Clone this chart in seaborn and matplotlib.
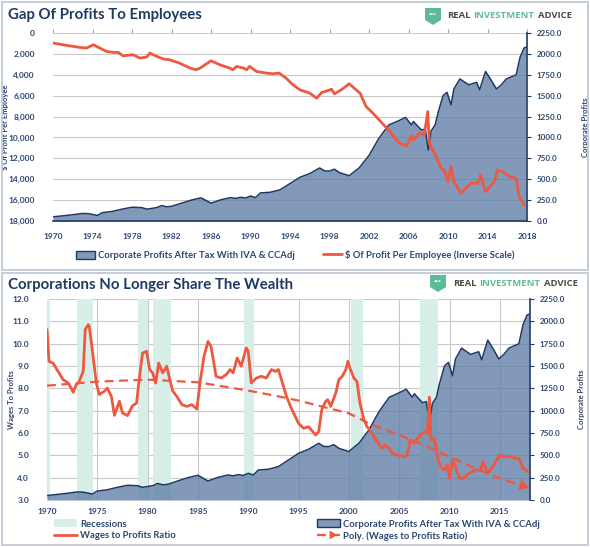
import matplotlib
matplotlib.use("Agg")
import matplotlib.pyplot as plt
import seaborn as sns
import numpy as np
from matplotlib.patches import Rectangle, Patch, Polygon, FancyArrowPatch
from matplotlib.lines import Line2D
from matplotlib.legend_handler import HandlerLine2D

# ---- data ----
# corporate profits after tax (right axis, both panels)
profit_pts = [(1970.0, 50), (1971.0, 62), (1972.0, 75), (1973.0, 90), (1973.6, 88),
              (1974.5, 67), (1975.0, 100), (1976.0, 115), (1977.0, 142), (1978.0, 165),
              (1979.0, 160), (1979.5, 142), (1980.5, 160), (1981.0, 185), (1981.5, 170),
              (1982.0, 176), (1983.0, 213), (1984.0, 250), (1985.0, 277), (1986.0, 213),
              (1987.0, 254), (1988.0, 280), (1988.5, 270), (1989.0, 284), (1989.5, 275),
              (1990.0, 299), (1990.5, 280), (1991.0, 336), (1992.0, 344), (1993.0, 374),
              (1994.0, 448), (1995.0, 523), (1996.0, 568), (1997.0, 635), (1997.5, 600),
              (1998.0, 598), (1998.5, 620), (1999.0, 579), (2000.0, 542), (2000.5, 590),
              (2001.0, 635), (2002.0, 785), (2003.0, 990), (2004.0, 1149), (2005.0, 1200),
              (2005.7, 1240), (2006.3, 1150), (2006.5, 1190), (2007.3, 1090), (2007.7, 1100),
              (2008.0, 850), (2008.3, 1080), (2008.7, 1150), (2009.0, 1300), (2009.5, 1500),
              (2009.9, 1540), (2010.3, 1390), (2010.6, 1580), (2011.2, 1700), (2012.1, 1630),
              (2012.9, 1660), (2013.2, 1570), (2013.8, 1790), (2014.4, 1680), (2014.9, 1580),
              (2015.4, 1630), (2015.9, 1700), (2016.9, 1750), (2017.3, 1960), (2017.7, 2070),
              (2017.9, 2080)]

# $ of profit per employee (left axis, inverse scale)
emp_pts = [(1970.0, 960), (1971.35, 1180), (1972.7, 1380), (1973.4, 1440), (1974.1, 1120),
           (1974.4, 1280), (1975.4, 1760), (1976.1, 1860), (1976.6, 1860), (1977.1, 2180),
           (1978.1, 2080), (1978.8, 2400), (1979.5, 2300), (1979.8, 1920), (1980.5, 2240),
           (1981.2, 2500), (1981.8, 2560), (1982.8, 2880), (1983.9, 3360), (1984.5, 3520),
           (1984.9, 3360), (1986.0, 2660), (1986.9, 3040), (1987.9, 3360), (1988.2, 3520),
           (1988.6, 3200), (1989.3, 3360), (1989.6, 3520), (1989.9, 3200), (1990.6, 3680),
           (1991.6, 3840), (1992.3, 3900), (1992.9, 3840), (1993.6, 4320), (1994.3, 4960),
           (1995.0, 5440), (1996.0, 5760), (1996.7, 6240), (1997.2, 5700), (1997.9, 5500),
           (1998.2, 5380), (1998.5, 5820), (1999.2, 5440), (2000.0, 4860), (2000.5, 5280),
           (2001.1, 5760), (2001.7, 7040), (2002.4, 7680), (2003.1, 8400), (2003.8, 9110),
           (2004.1, 9440), (2004.5, 9920), (2005.1, 10550), (2005.8, 10810), (2006.3, 9850),
           (2006.5, 10240), (2007.1, 9590), (2007.6, 9740), (2007.95, 7520), (2008.1, 10550),
           (2008.8, 11830), (2009.3, 12950), (2009.6, 13110), (2010.0, 14230), (2010.3, 12790),
           (2010.6, 14230), (2011.3, 15340), (2012.3, 14390), (2013.0, 14390), (2013.3, 13590),
           (2013.8, 15190), (2014.7, 14230), (2015.0, 13110), (2015.5, 13270), (2016.2, 13750),
           (2016.9, 13910), (2017.2, 15670), (2017.7, 16470)]

# wages to profits ratio (bottom panel, left axis)
wage_pts = [(1970.0, 10.63), (1970.2, 9.21), (1970.6, 9.13), (1971.1, 8.76), (1971.6, 8.39),
            (1972.1, 8.24), (1972.4, 8.01), (1972.6, 7.82), (1972.9, 8.16), (1973.2, 8.31),
            (1973.6, 8.76), (1973.8, 10.63), (1974.1, 10.85), (1974.2, 10.78), (1974.6, 9.36),
            (1974.9, 8.24), (1975.2, 7.72), (1975.7, 7.87), (1976.0, 8.01), (1976.4, 7.64),
            (1976.7, 6.79), (1977.2, 7.42), (1977.5, 6.90), (1978.0, 6.78), (1978.5, 7.22),
            (1978.9, 7.34), (1979.2, 8.54), (1979.5, 9.58), (1979.9, 9.66), (1980.2, 8.84),
            (1980.5, 8.69), (1980.8, 8.24), (1981.1, 9.13), (1981.5, 8.69), (1981.9, 8.99),
            (1982.2, 8.39), (1982.5, 7.87), (1982.9, 7.64), (1983.4, 7.27), (1983.9, 7.19),
            (1984.4, 7.27), (1984.9, 7.07), (1985.2, 8.24), (1985.6, 9.43), (1986.0, 10.10),
            (1986.3, 9.88), (1986.8, 8.54), (1987.3, 8.46), (1987.8, 8.61), (1988.2, 8.84),
            (1988.5, 8.69), (1988.9, 9.36), (1989.3, 8.99), (1989.8, 9.81), (1990.0, 9.66),
            (1990.3, 8.24), (1990.8, 8.46), (1991.3, 8.54), (1991.8, 8.46), (1992.3, 8.84),
            (1992.7, 8.76), (1993.0, 8.84), (1993.4, 8.24), (1993.8, 7.64), (1994.2, 7.19),
            (1994.5, 6.90), (1995.0, 6.43), (1995.5, 6.21), (1996.0, 6.28), (1996.7, 5.91),
            (1997.0, 6.06), (1997.3, 7.03), (1997.7, 7.42), (1997.9, 7.49), (1998.2, 7.19),
            (1998.7, 7.79), (1999.0, 8.39), (1999.3, 8.51), (1999.7, 8.84), (1999.9, 9.21),
            (2000.1, 8.91), (2000.5, 8.46), (2000.8, 8.31), (2001.1, 7.34), (2001.5, 6.58),
            (2001.8, 6.28), (2002.1, 6.13), (2002.8, 5.61), (2003.3, 5.31), (2003.6, 5.46),
            (2004.0, 5.31), (2004.3, 5.09), (2004.8, 5.01), (2005.5, 4.94), (2005.8, 5.01),
            (2006.1, 5.69), (2006.5, 5.54), (2006.8, 5.76), (2007.3, 5.99), (2007.6, 6.06),
            (2007.8, 5.99), (2008.0, 7.60), (2008.15, 5.69), (2008.4, 5.76), (2008.6, 5.54),
            (2008.8, 4.94), (2009.1, 4.49), (2009.5, 4.34), (2009.8, 4.57), (2010.0, 3.97),
            (2010.3, 4.79), (2010.6, 4.49), (2011.0, 3.97), (2011.4, 3.97), (2011.9, 4.19),
            (2012.6, 4.34), (2013.1, 4.34), (2013.3, 4.72), (2013.8, 4.19), (2014.3, 4.49),
            (2014.6, 4.72), (2015.0, 5.01), (2015.4, 4.94), (2015.9, 4.94), (2016.6, 4.87),
            (2016.9, 4.87), (2017.3, 4.42), (2017.8, 4.27)]

# polynomial trend as drawn
poly_pts = [(1970, 8.12), (1975, 8.30), (1980, 8.39), (1985, 8.27), (1990, 7.90), (1993, 7.64),
            (1995, 7.45), (2000, 6.88), (2002, 6.43), (2005, 5.91), (2007.5, 5.46),
            (2010, 4.94), (2012.5, 4.42), (2015, 3.97), (2017.9, 3.55)]

recessions = [(1970.0, 1970.25), (1973.0, 1974.55), (1979.0, 1980.0), (1980.5, 1982.3),
              (1989.6, 1990.6), (2000.2, 2001.4), (2007.1, 2008.9)]

profit_year, profit_val = map(np.array, zip(*profit_pts))
emp_year, emp_val = map(np.array, zip(*emp_pts))
wage_year, wage_val = map(np.array, zip(*wage_pts))
poly_year, poly_val = map(np.array, zip(*poly_pts))

top_xticks = list(range(1970, 2019, 4))
bot_xticks = list(range(1970, 2016, 5))
emp_ticks = list(range(0, 18001, 2000))
ratio_ticks = [3.0, 4.0, 5.0, 6.0, 7.0, 8.0, 9.0, 10.0, 11.0, 12.0]
profit_ticks = [0, 250, 500, 750, 1000, 1250, 1500, 1750, 2000, 2250]

NAVY = "#1F3A63"
TICK = "#2B4770"
RED = "#EE5841"
AREA = "#5F7DA6"
AREA_SOLID = "#8198B7"
EDGE = "#1F3864"
MINT = "#D8EFE9"
GRID = "#C9C9C9"
GREEN = "#5DBB9B"
GRAY_TXT = "#4A4A4A"

sns.set_theme(style="white")
plt.rcParams["font.family"] = ["Lato", "DejaVu Sans"]

W, H = 590, 547
fig = plt.figure(figsize=(W / 100, H / 100), dpi=100)
renderer = fig.canvas.get_renderer()


def fx(x):
    return x / W


def fy(y):
    return 1 - y / H


def px_rect(x0, y0, x1, y1):
    return [fx(x0), fy(y1), (x1 - x0) / W, (y1 - y0) / H]


def logo(x_icon, y_mid, x_text):
    s = [(x_icon, y_mid - 8), (x_icon + 16, y_mid - 8), (x_icon + 16, y_mid + 4),
         (x_icon + 8, y_mid + 9), (x_icon, y_mid + 4)]
    fig.add_artist(Polygon([(fx(a), fy(b)) for a, b in s], closed=True,
                           transform=fig.transFigure, fc=GREEN, ec="none"))
    fig.text(fx(x_icon + 8), fy(y_mid - 1.5), "···", color="white", fontsize=7,
             weight="bold", ha="center", va="center")
    kw = dict(fontsize=6.8, weight="bold", va="center", family=["Open Sans", "DejaVu Sans"])
    x = x_text
    for word, col in [("REAL", GRAY_TXT), ("INVESTMENT", GREEN), ("ADVICE", GRAY_TXT)]:
        t = fig.text(fx(x), fy(y_mid), word, color=col, **kw)
        x = t.get_window_extent(renderer).x1 + 3


def style_profit_axis(ax):
    for s in ["top", "left", "bottom"]:
        ax.spines[s].set_visible(False)
    ax.spines["right"].set_color(EDGE)
    ax.spines["right"].set_linewidth(1.2)
    ax.yaxis.tick_right()
    ax.yaxis.set_label_position("right")
    ax.set_ylim(0, 2250)
    ax.set_yticks(profit_ticks)
    ax.set_yticklabels([f"{v:.1f}" for v in profit_ticks], fontweight="bold")
    ax.tick_params(axis="y", right=True, left=False, labelright=True, labelleft=False,
                   length=3, width=0.8, color=EDGE, labelsize=5.8, labelcolor=TICK, pad=4)
    ax.set_ylabel("Corporate Profits", fontsize=5.5, weight="bold", color=TICK, rotation=90)
    ax.set_axisbelow(True)


def style_left_axis(ax, ticks, labels, lim, text, xlab):
    ax.yaxis.tick_left()
    ax.yaxis.set_label_position("left")
    ax.set_ylim(*lim)
    ax.set_yticks(ticks)
    ax.set_yticklabels(labels, fontweight="bold")
    ax.tick_params(axis="y", left=False, right=False, labelleft=True, labelright=False,
                   labelsize=6, labelcolor=TICK, pad=7)
    ax.set_ylabel(text, fontsize=5.5, weight="bold", color=TICK)
    ax.yaxis.set_label_coords(xlab, 0.5)
    for s in ax.spines.values():
        s.set_visible(False)


def draw_area(ax):
    ax.fill_between(profit_year, profit_val, color=AREA, alpha=0.78, lw=0, zorder=1)
    ax.plot(profit_year, profit_val, color=EDGE, lw=1.1, zorder=3)


# panel borders
for (x0, y0, x1, y1) in [(2, 2, 588, 270), (2, 273, 588, 545)]:
    fig.add_artist(Rectangle((fx(x0), fy(y1)), (x1 - x0) / W, (y1 - y0) / H,
                             transform=fig.transFigure, fill=False, ec="#C3CEDB", lw=1.4))

# ================= top panel =================
axA = fig.add_axes(px_rect(53, 33, 527, 221))
axE = axA.twinx()
draw_area(axA)
style_profit_axis(axA)
axA.yaxis.set_label_coords(1.115, 0.5)
axA.spines["bottom"].set_visible(True)
axA.spines["bottom"].set_color(EDGE)
axA.spines["bottom"].set_linewidth(1.2)
axA.grid(axis="y", color=GRID, lw=0.8)
axA.set_xlim(1970, 2018)
axA.set_xticks(top_xticks)
axA.set_xticklabels([str(t) for t in top_xticks], fontweight="bold")
axA.tick_params(axis="x", top=True, bottom=False, labeltop=False, labelbottom=True,
                length=3, width=0.8, color="#A0A0A0", direction="out",
                labelsize=6, labelcolor=TICK, pad=6)

sns.lineplot(x=emp_year, y=emp_val, ax=axE, color=RED, lw=2.0, zorder=5)
style_left_axis(axE, emp_ticks, [f"{v:,}" for v in emp_ticks], (18000, 0),
                "\\$ Of Profit Per Employee", -0.092)

fig.text(fx(8), fy(15), "Gap Of Profits To Employees", fontsize=10.8, weight="bold",
         color=NAVY, va="center")
logo(425, 16, 447)

top_handles = [Patch(facecolor=AREA_SOLID, edgecolor=EDGE, lw=1.0),
               Line2D([], [], color=RED, lw=2.0)]
top_labels = ["Corporate Profits After Tax With IVA & CCAdj",
              "\\$ Of Profit Per Employee (Inverse Scale)"]
leg = fig.legend(top_handles, top_labels, loc="center", bbox_to_anchor=(fx(295), fy(255)),
                 ncol=2, frameon=False, fontsize=6.8, handlelength=2.0, handleheight=0.9,
                 handletextpad=0.3, columnspacing=3.0, borderpad=0)
for t in leg.get_texts():
    t.set_color(TICK)
    t.set_fontweight("bold")

# ================= bottom panel =================
axB = fig.add_axes(px_rect(47, 299, 530, 500))
axW = axB.twinx()
for a, b in recessions:
    axB.axvspan(a, b, color=MINT, lw=0, zorder=0.6)
draw_area(axB)
style_profit_axis(axB)
axB.yaxis.set_label_coords(1.1, 0.5)
axB.grid(axis="both", color=GRID, lw=0.8)
axB.set_xlim(1970, 2018)
axB.set_xticks(bot_xticks)
axB.set_xticklabels([str(t) for t in bot_xticks], fontweight="bold")
axB.tick_params(axis="x", top=False, bottom=False, length=0, labelsize=6,
                labelcolor=TICK, pad=6)

sns.lineplot(x=wage_year, y=wage_val, ax=axW, color=RED, lw=2.0, zorder=5)
sns.lineplot(x=poly_year, y=poly_val, ax=axW, color=RED, lw=1.6, zorder=4,
             linestyle=(0, (4, 2.5)))
axW.annotate("", xy=(poly_year[-1], poly_val[-1]), xytext=(poly_year[-2], poly_val[-2]),
             arrowprops=dict(arrowstyle="-|>,head_length=0.7,head_width=0.4", color=RED,
                             lw=0.01, shrinkA=0, shrinkB=0, mutation_scale=10))
style_left_axis(axW, ratio_ticks, [f"{v:.1f}" for v in ratio_ticks], (3, 12),
                "Wages To Profits", -0.066)

fig.text(fx(8), fy(285), "Corporations No Longer Share The Wealth", fontsize=10.8,
         weight="bold", color=NAVY, va="center")
logo(430, 283, 453)


class ArrowLine(HandlerLine2D):
    def create_artists(self, legend, orig_handle, xdescent, ydescent, width, height,
                       fontsize, trans):
        arts = super().create_artists(legend, orig_handle, xdescent, ydescent, width,
                                      height, fontsize, trans)
        y = (height - ydescent) / 2
        head = FancyArrowPatch((width * 0.6 - xdescent, y), (width - xdescent, y),
                               arrowstyle="-|>,head_length=0.6,head_width=0.35",
                               mutation_scale=9, color=RED, lw=0.01, transform=trans)
        return list(arts) + [head]


poly_handle = Line2D([], [], color=RED, lw=1.6, linestyle=(0, (4, 2.5)))
bot_handles = [Patch(facecolor=MINT, edgecolor="none"), Line2D([], [], color=RED, lw=2.0),
               Patch(facecolor=AREA_SOLID, edgecolor=EDGE, lw=1.0), poly_handle]
bot_labels = ["Recessions", "Wages to Profits Ratio",
              "Corporate Profits After Tax With IVA & CCAdj",
              "Poly. (Wages to Profits Ratio)"]
leg2 = fig.legend(bot_handles, bot_labels, loc="center", bbox_to_anchor=(fx(297), fy(530)),
                  ncol=2, frameon=False, fontsize=6.8, handlelength=2.4, handleheight=0.9,
                  handletextpad=0.3, columnspacing=15.0, labelspacing=0.25, borderpad=0,
                  handler_map={poly_handle: ArrowLine()})
for t in leg2.get_texts():
    t.set_color(TICK)
    t.set_fontweight("bold")

fig.savefig("out.png", dpi=100)
